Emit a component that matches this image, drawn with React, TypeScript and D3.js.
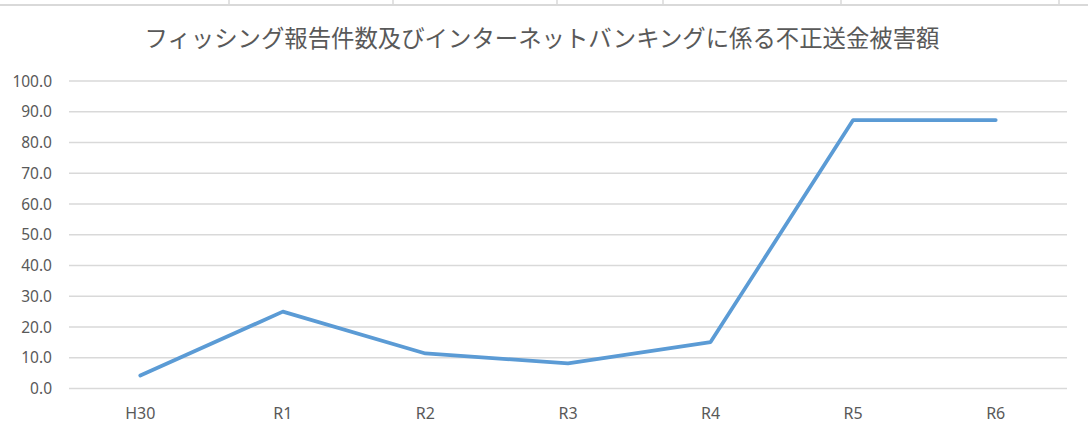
import { useEffect, useRef } from "react";
import * as d3 from "d3";

const title = "フィッシング報告件数及びインターネットバンキングに係る不正送金被害額";
const categories = ["H30", "R1", "R2", "R3", "R4", "R5", "R6"];
const amounts = [4.2, 25.0, 11.4, 8.2, 15.1, 87.3, 87.3];
const yTicks = [0, 10, 20, 30, 40, 50, 60, 70, 80, 90, 100];
// sheet cell borders peeking above the chart
const cellBorders = [229, 393, 557, 663, 841, 1059];

export default function App() {
  const svgRef = useRef<SVGSVGElement>(null);

  useEffect(() => {
    if (!svgRef.current) return;
    const width = 1088;
    const height = 436;
    const margin = { top: 81, right: 21, bottom: 47.5, left: 69 };

    const svg = d3.select(svgRef.current);
    svg.selectAll("*").remove();
    svg.attr("viewBox", `0 0 ${width} ${height}`);

    svg.append("rect").attr("width", width).attr("height", height).attr("fill", "#ffffff");

    // top border strip
    svg.append("g")
      .selectAll("line")
      .data(cellBorders)
      .join("line")
      .attr("x1", d => d).attr("x2", d => d)
      .attr("y1", 0).attr("y2", 5)
      .attr("stroke", "#d9d9d9")
      .attr("stroke-width", 1.5);
    svg.append("line")
      .attr("x1", 0).attr("x2", width)
      .attr("y1", 5).attr("y2", 5)
      .attr("stroke", "#d9d9d9")
      .attr("stroke-width", 2);

    const x = d3.scaleBand<string>()
      .domain(categories)
      .range([margin.left, width - margin.right]);

    const y = d3.scaleLinear()
      .domain([0, 100])
      .range([height - margin.bottom, margin.top]);

    // title
    svg.append("text")
      .attr("x", 542)
      .attr("y", 46.5)
      .attr("text-anchor", "middle")
      .attr("font-family", "'Noto Sans CJK JP', sans-serif")
      .attr("font-size", "23.5px")
      .attr("textLength", 795)
      .attr("lengthAdjust", "spacingAndGlyphs")
      .attr("fill", "#595959")
      .text(title);

    // grid
    svg.append("g")
      .selectAll("line")
      .data(yTicks)
      .join("line")
      .attr("x1", margin.left)
      .attr("x2", width - margin.right)
      .attr("y1", d => y(d))
      .attr("y2", d => y(d))
      .attr("stroke", "#d9d9d9")
      .attr("stroke-width", 1.5);

    // y labels
    svg.append("g")
      .selectAll("text")
      .data(yTicks)
      .join("text")
      .attr("x", 52)
      .attr("y", d => y(d))
      .attr("dy", "0.36em")
      .attr("text-anchor", "end")
      .attr("font-family", "'Noto Sans', sans-serif")
      .attr("font-size", "15.5px")
      .attr("fill", "#595959")
      .text(d => d3.format(".1f")(d));

    // x labels
    svg.append("g")
      .selectAll("text")
      .data(categories)
      .join("text")
      .attr("x", d => x(d)! + x.bandwidth() / 2)
      .attr("y", 419)
      .attr("text-anchor", "middle")
      .attr("font-family", "'Noto Sans', sans-serif")
      .attr("font-size", "16px")
      .attr("fill", "#595959")
      .text(d => d);

    // line
    const line = d3.line<number>()
      .x((_, i) => x(categories[i])! + x.bandwidth() / 2)
      .y(d => y(d));

    svg.append("path")
      .datum(amounts)
      .attr("d", line)
      .attr("fill", "none")
      .attr("stroke", "#5b9bd5")
      .attr("stroke-width", 3.75)
      .attr("stroke-linejoin", "round")
      .attr("stroke-linecap", "round");
  }, []);

  return (
    <svg
      ref={svgRef}
      width={1088}
      height={436}
      style={{ position: "absolute", left: 0, top: 0, display: "block" }}
    />
  );
}
